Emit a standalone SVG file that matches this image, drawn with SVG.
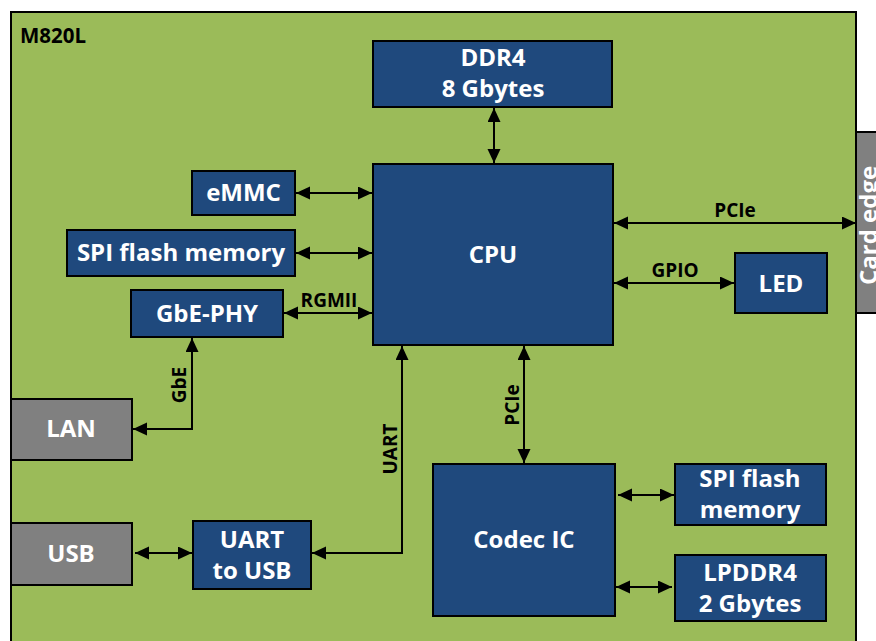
<svg xmlns="http://www.w3.org/2000/svg" width="876" height="641" viewBox="0 0 876 641">
<style>
.blk{fill:#1F497D;stroke:#000;stroke-width:2}
.gry{fill:#808080;stroke:#000;stroke-width:2}
.wt{font-family:"Open Sans","Noto Sans",sans-serif;font-weight:bold;font-size:24px;fill:#fff;text-anchor:middle}
.lb{font-family:"Open Sans","Noto Sans",sans-serif;font-weight:bold;font-size:19px;fill:#000;text-anchor:middle}
.cn{fill:none;stroke:#000;stroke-width:2}
</style>
<defs>
<marker id="ah" markerUnits="userSpaceOnUse" markerWidth="15" markerHeight="14" refX="14" refY="6.5" orient="auto-start-reverse" viewBox="0 0 15 14">
<path d="M0,0 L14,6.5 L0,13 z" fill="#000"/>
</marker>
</defs>
<rect width="876" height="641" fill="#fff"/>
<rect id="board" x="11" y="12" width="845" height="650" fill="#9BBB59" stroke="#000" stroke-width="2"/>
<text x="20" y="43" font-family="'Open Sans','Noto Sans',sans-serif" font-weight="bold" font-size="20.5" fill="#000">M820L</text>

<g id="connectors" class="cn" marker-start="url(#ah)" marker-end="url(#ah)">
<path d="M494,108 V163"/>
<path d="M296,193 H372"/>
<path d="M296,253 H372"/>
<path d="M284,313 H372"/>
<path d="M614,223 H856"/>
<path d="M614,283 H734"/>
<path d="M192,338 V429 H133"/>
<path d="M135,553 H192"/>
<path d="M312,553 H402 V346"/>
<path d="M524,346 V463"/>
<path d="M618,495 H674"/>
<path d="M616,587 H672"/>
</g>

<g id="labels" class="lb">
<text x="329" y="307">RGMII</text>
<text x="735" y="217">PCIe</text>
<text x="675" y="277">GPIO</text>
<text transform="translate(186,385) rotate(-90)">GbE</text>
<text transform="translate(397,449) rotate(-90)">UART</text>
<text transform="translate(519,405) rotate(-90)">PCIe</text>
</g>

<g id="ddr4"><rect class="blk" x="373" y="41" width="239" height="66"/><text class="wt" x="493" y="66">DDR4</text><text class="wt" x="493" y="97">8 Gbytes</text></g>
<g id="cpu"><rect class="blk" x="373" y="164" width="240" height="181"/><text class="wt" x="493" y="263">CPU</text></g>
<g id="emmc"><rect class="blk" x="192" y="171" width="103" height="44"/><text class="wt" x="243.5" y="201">eMMC</text></g>
<g id="spi1"><rect class="blk" x="67" y="230" width="228" height="46"/><text class="wt" x="181" y="261">SPI flash memory</text></g>
<g id="gbephy"><rect class="blk" x="131" y="290" width="152" height="47"/><text class="wt" x="207" y="322">GbE-PHY</text></g>
<g id="led"><rect class="blk" x="735" y="253" width="92" height="60"/><text class="wt" x="781" y="292">LED</text></g>
<g id="cardedge"><rect class="gry" x="856" y="132" width="30" height="181"/><text class="wt" style="text-anchor:start" transform="translate(877,285) rotate(-90)">Card edge</text></g>
<g id="lan"><rect class="gry" x="11" y="399" width="121" height="61"/><text class="wt" x="71" y="437">LAN</text></g>
<g id="usb"><rect class="gry" x="11" y="523" width="121" height="62"/><text class="wt" x="71" y="562">USB</text></g>
<g id="uart2usb"><rect class="blk" x="193" y="521" width="118" height="68"/><text class="wt" x="252" y="548">UART</text><text class="wt" x="252" y="579">to USB</text></g>
<g id="codec"><rect class="blk" x="433" y="464" width="182" height="152"/><text class="wt" x="524" y="548">Codec IC</text></g>
<g id="spi2"><rect class="blk" x="675" y="464" width="151" height="61"/><text class="wt" x="750" y="487">SPI flash</text><text class="wt" x="750" y="518">memory</text></g>
<g id="lpddr4"><rect class="blk" x="675" y="555" width="151" height="66"/><text class="wt" x="750" y="581">LPDDR4</text><text class="wt" x="750" y="612">2 Gbytes</text></g>
</svg>
